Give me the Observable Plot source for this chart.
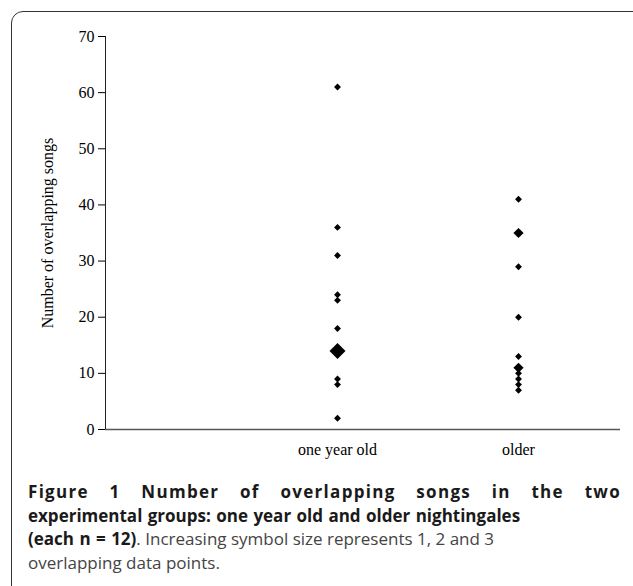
<!DOCTYPE html>
<html>
<head>
<meta charset="utf-8">
<script src="https://cdn.jsdelivr.net/npm/d3@7"></script>
<script src="https://cdn.jsdelivr.net/npm/@observablehq/plot@0.6"></script>
<style>
  html, body { margin: 0; padding: 0; background: #fff; }
  body { width: 633px; height: 586px; position: relative; overflow: hidden; }
  .box { position: absolute; left: 11px; top: 11px; width: 640px; height: 620px;
         border: 1.5px solid #333; border-radius: 12px; box-sizing: border-box; }
  #chart { position: absolute; left: 0; top: 0; }
  #chart svg text { font-size: 16px; }
  .caption { position: absolute; left: 28px; top: 480px; width: 593px;
             font-family: "Open Sans", sans-serif; font-size: 17px; line-height: 23.5px;
             color: #444; }
  .caption .l1 { display: block; text-align: justify; text-align-last: justify; letter-spacing: 1.3px; }
  .caption b { font-weight: 700; color: #1a1a1a; word-spacing: 1px; }
</style>
</head>
<body>
<div class="box"></div>
<div id="chart"></div>
<div class="caption"><b><span class="l1">Figure 1 Number of overlapping songs in the two</span>experimental groups: one year old and older nightingales<br>(each n = 12)</b>. Increasing symbol size represents 1, 2 and 3<br>overlapping data points.</div>
<script>
const groups = ["one year old", "older"];
const oneYearOld = [61, 36, 31, 24, 23, 18, 14, 14, 14, 9, 8, 2];
const older = [41, 35, 35, 29, 20, 13, 11, 11, 10, 9, 8, 7];
const yTicks = [0, 10, 20, 30, 40, 50, 60, 70];

const series = [oneYearOld, older];
const points = [];
groups.forEach((g, i) => {
  const counts = d3.rollup(series[i], v => v.length, d => d);
  for (const [value, count] of counts) points.push({group: g, value, count});
});

const chart = Plot.plot({
  width: 633,
  height: 470,
  marginTop: 36,
  marginBottom: 41,
  marginLeft: 105,
  marginRight: 13,
  style: {fontFamily: "Liberation Serif, Times New Roman, serif", fontSize: "16px", color: "#000", background: "transparent"},
  x: {type: "point", domain: groups, padding: 0.92, align: 0.695},
  y: {domain: [0, 70]},
  r: {domain: [1, 2, 3], range: [3.1, 4.6, 7.2]},
  marks: [
    Plot.axisY({ticks: yTicks, tickSize: 7, tickPadding: 4, tickFormat: d => d,
      label: "Number of overlapping songs", labelAnchor: "center", labelOffset: 64, labelArrow: "none"}),
    Plot.axisX({tickSize: 0, tickPadding: 14, label: null}),
    Plot.frame({anchor: "left", stroke: "#222", strokeWidth: 1}),
    Plot.ruleY([0], {stroke: "#555", strokeWidth: 1.5}),
    Plot.dot(points, {x: "group", y: "value", r: "count", symbol: "diamond2", fill: "#000", stroke: "none"})
  ]
});
document.getElementById("chart").appendChild(chart);
</script>
</body>
</html>
